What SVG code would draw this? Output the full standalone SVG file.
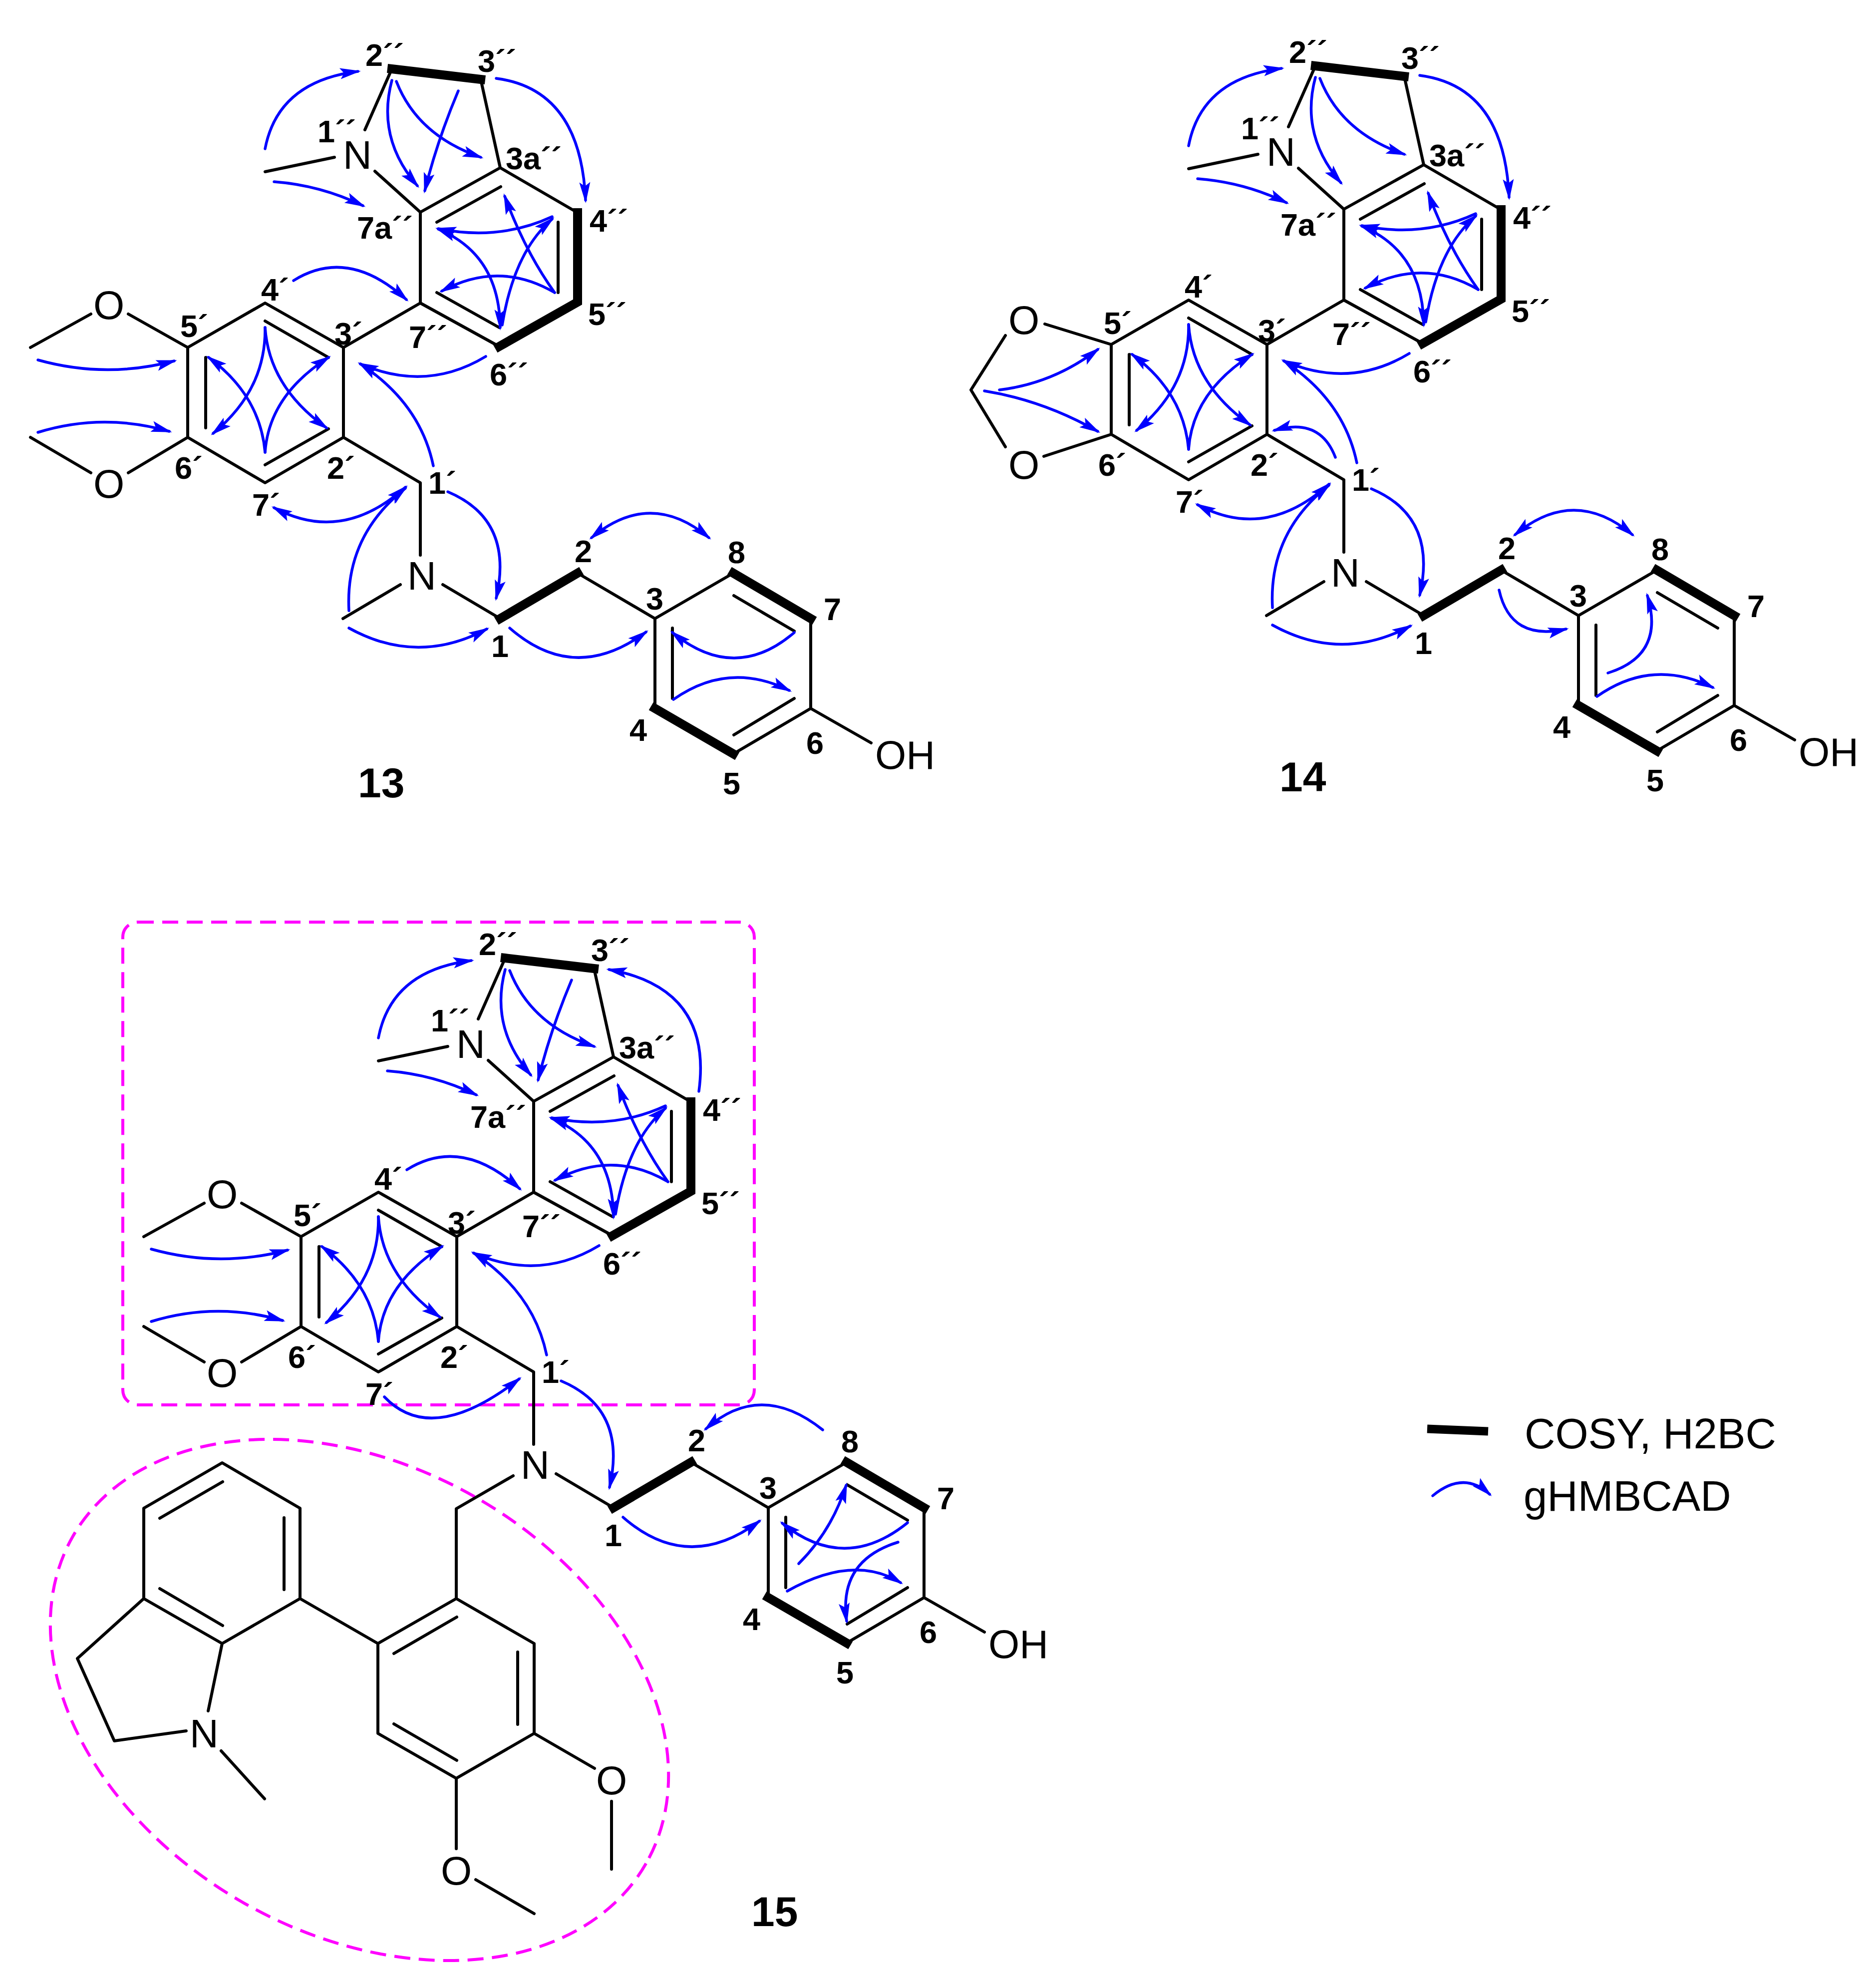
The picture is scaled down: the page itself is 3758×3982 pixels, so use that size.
<svg xmlns="http://www.w3.org/2000/svg" width="3758" height="3982" viewBox="0 0 3758 3982">
<style>
text{font-family:"Liberation Sans",Arial,sans-serif;fill:#000}
.l{font-size:63px;font-weight:bold}
.a{font-size:80px;text-anchor:middle}
.t{font-size:80px}
.n{font-size:84px;font-weight:bold}
.g{font-size:85px}
.b{fill:none;stroke:#000;stroke-width:6;stroke-linecap:round;stroke-linejoin:round}
.k{fill:none;stroke:#000;stroke-width:18;stroke-linecap:square;stroke-linejoin:miter}
.h{fill:none;stroke:#00f;stroke-width:5.5;stroke-linecap:round;marker-end:url(#ah)}
.d{fill:none;stroke:#00f;stroke-width:5.5;stroke-linecap:round;marker-end:url(#ah);marker-start:url(#ah)}
.m{fill:none;stroke:#f0f;stroke-width:6;stroke-dasharray:32 17}
</style>
<defs>
<marker id="ah" markerUnits="userSpaceOnUse" markerWidth="44" markerHeight="30" refX="36" refY="15" orient="auto-start-reverse" overflow="visible">
<path d="M42,15L0,4L8,15L0,26Z" fill="#00f"/>
</marker>
</defs>

<g id="compound-13">
<g id="bonds-13">
<path class="b" d="M785,138L731,260M670,315L531,344M751,343L842,425M963,159L1002,336M842,425L1002,336L1157,426M1000,694L842,607L842,425M842,607L688,696M688,696L531,607L376,696L376,876L531,967L688,876ZM688,876L842,967L842,1112M887,1171L1002,1239M1157,1148L1312,1239L1469,1148M1624,1239V1419L1469,1510M1312,1419V1239M1624,1419L1745,1488M376,696L257,629M182,629L61,696M376,876L257,947M182,947L61,876M802,1171L687,1239"/>
<path class="b" d="M875,445L1003,374M1118,445V586M875,586L1000,656M531,643L658,716M412,716V857M531,931L658,859M1470,1193L1591,1264M1591,1399L1470,1472M1347,1399V1258"/>
<path class="k" d="M785,138L963,159M1157,426V605L1000,694M1002,1239L1157,1148M1469,1148L1624,1239M1469,1510L1312,1419"/>
</g>
<g id="hmbc-13">
<path class="h" d="M531,298Q557,163 717,143"/>
<path class="h" d="M785,161Q754,277 836,372"/>
<path class="h" d="M794,163Q836,271 963,315"/>
<path class="h" d="M918,182Q875,284 851,382"/>
<path class="h" d="M994,157Q1163,179 1173,401"/>
<path class="h" d="M549,364Q642,371 727,412"/>
<path class="h" d="M1106,434Q1000,483 878,458"/>
<path class="h" d="M1111,586Q1000,521 885,583"/>
<path class="d" d="M878,459Q1000,510 1002,656"/>
<path class="h" d="M1111,586Q1052,504 1011,393"/>
<path class="h" d="M1006,651Q1030,504 1106,439"/>
<path class="h" d="M588,562Q697,494 814,600"/>
<path class="h" d="M973,714Q854,786 722,729"/>
<path class="h" d="M868,933Q842,808 722,729"/>
<path class="h" d="M76,721Q212,759 349,723"/>
<path class="h" d="M76,866Q206,826 339,864"/>
<path class="h" d="M531,656Q533,781 427,868"/>
<path class="h" d="M531,656Q539,775 654,857"/>
<path class="h" d="M531,906Q521,792 418,716"/>
<path class="h" d="M531,906Q539,792 658,716"/>
<path class="d" d="M549,1017Q685,1090 812,976"/>
<path class="h" d="M699,1223Q691,1074 812,978"/>
<path class="h" d="M699,1258Q836,1334 975,1260"/>
<path class="h" d="M897,985Q1030,1041 994,1198"/>
<path class="d" d="M1185,1077Q1303,979 1420,1077"/>
<path class="h" d="M1021,1258Q1151,1372 1294,1266"/>
<path class="h" d="M1591,1267Q1472,1369 1347,1267"/>
<path class="h" d="M1349,1401Q1460,1323 1581,1383"/>
</g>
<g id="labels-13">
<text class="l" x="732" y="132">2´´</text><text class="l" x="957" y="144">3´´</text><text class="l" x="636" y="285">1´´</text><text class="l" x="1013" y="339">3a´´</text><text class="l" x="1181" y="464">4´´</text><text class="l" x="1178" y="651">5´´</text><text class="l" x="981" y="772">6´´</text><text class="l" x="819" y="697">7´´</text><text class="l" x="715" y="478">7a´´</text>
<text class="l" x="523" y="602">4´</text><text class="l" x="670" y="690">3´</text><text class="l" x="361" y="675">5´</text><text class="l" x="350" y="959">6´</text><text class="l" x="655" y="959">2´</text><text class="l" x="505" y="1033">7´</text><text class="l" x="858" y="989">1´</text>
<text class="l" x="1151" y="1126">2</text><text class="l" x="1458" y="1128">8</text><text class="l" x="1294" y="1221">3</text><text class="l" x="1650" y="1242">7</text><text class="l" x="984" y="1316">1</text><text class="l" x="1261" y="1484">4</text><text class="l" x="1448" y="1591">5</text><text class="l" x="1615" y="1510">6</text>
<text class="a" x="716" y="338">N</text><text class="a" x="845" y="1181">N</text><text class="a" x="218" y="639">O</text><text class="a" x="218" y="997">O</text><text class="t" x="1753" y="1540">OH</text>
<text class="n" x="717" y="1597">13</text>
</g>
</g>

<g id="compound-14" transform="translate(1850,-6)">
<g id="bonds-14">
<path class="b" d="M785,138L731,260M670,315L531,344M751,343L842,425M963,159L1002,336M842,425L1002,336L1157,426M1000,694L842,607L842,425M842,607L688,696M688,696L531,607L376,696L376,876L531,967L688,876ZM688,876L842,967L842,1112M887,1171L1002,1239M1157,1148L1312,1239L1469,1148M1624,1239V1419L1469,1510M1312,1419V1239M1624,1419L1745,1488M376,696L243,655M164,678L95,787L164,901M376,876L241,920M802,1171L687,1239"/>
<path class="b" d="M875,445L1003,374M1118,445V586M875,586L1000,656M531,643L658,716M412,716V857M531,931L658,859M1470,1193L1591,1264M1591,1399L1470,1472M1347,1399V1258"/>
<path class="k" d="M785,138L963,159M1157,426V605L1000,694M1002,1239L1157,1148M1469,1148L1624,1239M1469,1510L1312,1419"/>
</g>
<g id="hmbc-14">
<path class="h" d="M531,298Q557,163 717,143"/>
<path class="h" d="M785,161Q754,277 836,372"/>
<path class="h" d="M794,163Q836,271 963,315"/>
<path class="h" d="M994,157Q1163,179 1173,401"/>
<path class="h" d="M549,364Q642,371 727,412"/>
<path class="h" d="M1106,434Q1000,483 878,458"/>
<path class="h" d="M1111,586Q1000,521 885,583"/>
<path class="d" d="M878,459Q1000,510 1002,656"/>
<path class="h" d="M1111,586Q1052,504 1011,393"/>
<path class="h" d="M1006,651Q1030,504 1106,439"/>
<path class="h" d="M973,714Q854,786 722,729"/>
<path class="h" d="M868,933Q842,808 722,729"/>
<path class="h" d="M825,922Q794,841 703,868"/>
<path class="h" d="M152,787Q260,774 349,706"/>
<path class="h" d="M122,789Q240,808 349,870"/>
<path class="h" d="M531,656Q533,781 427,868"/>
<path class="h" d="M531,656Q539,775 654,857"/>
<path class="h" d="M531,906Q521,792 418,716"/>
<path class="h" d="M531,906Q539,792 658,716"/>
<path class="d" d="M549,1017Q685,1090 812,976"/>
<path class="h" d="M699,1223Q691,1074 812,978"/>
<path class="h" d="M699,1258Q836,1334 975,1260"/>
<path class="h" d="M897,985Q1030,1041 994,1198"/>
<path class="d" d="M1185,1077Q1303,979 1420,1077"/>
<path class="h" d="M1153,1188Q1176,1291 1287,1266"/>
<path class="h" d="M1371,1354Q1486,1318 1450,1199"/>
<path class="h" d="M1349,1401Q1460,1323 1581,1383"/>
</g>
<g id="labels-14">
<text class="l" x="732" y="132">2´´</text><text class="l" x="957" y="144">3´´</text><text class="l" x="636" y="285">1´´</text><text class="l" x="1013" y="339">3a´´</text><text class="l" x="1181" y="464">4´´</text><text class="l" x="1178" y="651">5´´</text><text class="l" x="981" y="772">6´´</text><text class="l" x="819" y="697">7´´</text><text class="l" x="715" y="478">7a´´</text>
<text class="l" x="523" y="602">4´</text><text class="l" x="670" y="690">3´</text><text class="l" x="361" y="675">5´</text><text class="l" x="350" y="959">6´</text><text class="l" x="655" y="959">2´</text><text class="l" x="505" y="1033">7´</text><text class="l" x="858" y="989">1´</text>
<text class="l" x="1151" y="1126">2</text><text class="l" x="1458" y="1128">8</text><text class="l" x="1294" y="1221">3</text><text class="l" x="1650" y="1242">7</text><text class="l" x="984" y="1316">1</text><text class="l" x="1261" y="1484">4</text><text class="l" x="1448" y="1591">5</text><text class="l" x="1615" y="1510">6</text>
<text class="a" x="716" y="338">N</text><text class="a" x="845" y="1181">N</text><text class="a" x="201" y="675">O</text><text class="a" x="201" y="965">O</text><text class="t" x="1753" y="1540">OH</text>
<text class="n" x="713" y="1591">14</text>
</g>
</g>

<g id="compound-15">
<rect class="m" x="246" y="1847" width="1265" height="967" rx="30"/>
<ellipse class="m" cx="720" cy="3405" rx="661" ry="468" transform="rotate(29.7 720 3405)"/>
<g transform="translate(227,1781)">
<g id="bonds-15">
<path class="b" d="M785,138L731,260M670,315L531,344M751,343L842,425M963,159L1002,336M842,425L1002,336L1157,426M1000,694L842,607L842,425M842,607L688,696M688,696L531,607L376,696L376,876L531,967L688,876ZM688,876L842,967L842,1112M887,1171L1002,1239M1157,1148L1312,1239L1469,1148M1624,1239V1419L1469,1510M1312,1419V1239M1624,1419L1745,1488M376,696L257,629M182,629L61,696M376,876L257,947M182,947L61,876"/>
<path class="b" d="M875,445L1003,374M1118,445V586M875,586L1000,656M531,643L658,716M412,716V857M531,931L658,859M1470,1193L1591,1264M1591,1399L1470,1472M1347,1399V1258"/>
<path class="k" d="M785,138L963,159M1157,426V605L1000,694M1002,1239L1157,1148M1469,1148L1624,1239M1469,1510L1312,1419"/>
</g>
<g id="hmbc-15">
<path class="h" d="M531,298Q557,163 717,143"/>
<path class="h" d="M785,161Q754,277 836,372"/>
<path class="h" d="M794,163Q836,271 963,315"/>
<path class="h" d="M918,182Q875,284 851,382"/>
<path class="h" d="M1173,405Q1201,199 993,161"/>
<path class="h" d="M549,364Q642,371 727,412"/>
<path class="h" d="M1106,434Q1000,483 878,458"/>
<path class="h" d="M1111,586Q1000,521 885,583"/>
<path class="d" d="M878,459Q1000,510 1002,656"/>
<path class="h" d="M1111,586Q1052,504 1011,393"/>
<path class="h" d="M1006,651Q1030,504 1106,439"/>
<path class="h" d="M588,562Q697,494 814,600"/>
<path class="h" d="M973,714Q854,786 722,729"/>
<path class="h" d="M868,933Q842,808 722,729"/>
<path class="h" d="M76,721Q212,759 349,723"/>
<path class="h" d="M76,866Q206,826 339,864"/>
<path class="h" d="M531,656Q533,781 427,868"/>
<path class="h" d="M531,656Q539,775 654,857"/>
<path class="h" d="M531,906Q521,792 418,716"/>
<path class="h" d="M531,906Q539,792 658,716"/>
<path class="h" d="M543,1017Q638,1117 813,981"/>
<path class="h" d="M897,985Q1030,1041 994,1198"/>
<path class="h" d="M1421,1083Q1297,984 1187,1081"/>
<path class="h" d="M1021,1258Q1151,1372 1294,1266"/>
<path class="h" d="M1373,1351Q1439,1285 1468,1194"/>
<path class="h" d="M1591,1269Q1465,1371 1340,1270"/>
<path class="h" d="M1350,1406Q1483,1331 1577,1389"/>
<path class="h" d="M1572,1308Q1452,1345 1469,1466"/>
</g>
<g id="labels-15">
<text class="l" x="732" y="132">2´´</text><text class="l" x="957" y="144">3´´</text><text class="l" x="636" y="285">1´´</text><text class="l" x="1013" y="339">3a´´</text><text class="l" x="1181" y="464">4´´</text><text class="l" x="1178" y="651">5´´</text><text class="l" x="981" y="772">6´´</text><text class="l" x="819" y="697">7´´</text><text class="l" x="715" y="478">7a´´</text>
<text class="l" x="523" y="602">4´</text><text class="l" x="670" y="690">3´</text><text class="l" x="361" y="675">5´</text><text class="l" x="350" y="959">6´</text><text class="l" x="655" y="959">2´</text><text class="l" x="505" y="1033">7´</text><text class="l" x="858" y="989">1´</text>
<text class="l" x="1151" y="1126">2</text><text class="l" x="1458" y="1128">8</text><text class="l" x="1294" y="1221">3</text><text class="l" x="1650" y="1242">7</text><text class="l" x="984" y="1316">1</text><text class="l" x="1261" y="1484">4</text><text class="l" x="1448" y="1591">5</text><text class="l" x="1615" y="1510">6</text>
<text class="a" x="716" y="338">N</text><text class="a" x="845" y="1181">N</text><text class="a" x="218" y="639">O</text><text class="a" x="218" y="997">O</text><text class="t" x="1753" y="1540">OH</text>
</g>
</g>
<g id="substituent-15">
<path class="b" d="M445,2930L601,3021V3202L445,3292L288,3202V3021ZM288,3202L155,3322L229,3487L373,3467M417,3427L445,3292M443,3507L530,3603M601,3202L757,3292M757,3292L914,3202L1070,3292V3472L914,3562L757,3472ZM914,3202V3022L1028,2956M1070,3472L1191,3542M1225,3608V3744M914,3562V3703M953,3765L1070,3833"/>
<path class="b" d="M320,3041L446,2968M569,3040V3184M320,3182L446,3256M789,3312L915,3239M1037,3309V3454M789,3453L915,3526"/>
<text class="a" x="409" y="3500">N</text><text class="a" x="1225" y="3594">O</text><text class="a" x="914" y="3775">O</text>
</g>
<text class="n" x="1505" y="3858">15</text>
</g>

<g id="legend">
<path d="M2859,2862L2981,2867" fill="none" stroke="#000" stroke-width="17"/>
<path class="h" d="M2870,2996Q2932,2945 2984,2993"/>
<text class="g" x="3054" y="2901">COSY, H2BC</text>
<text class="g" x="3052" y="3026">gHMBCAD</text>
</g>
</svg>
